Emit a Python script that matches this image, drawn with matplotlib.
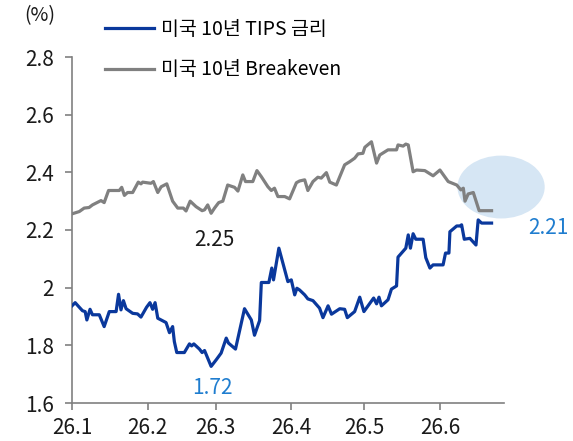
import numpy as np
import matplotlib
matplotlib.use('Agg')
import matplotlib.pyplot as plt
import matplotlib.dates as mdates
from matplotlib.patches import Ellipse

plt.rcParams['font.family'] = ['Noto Sans CJK KR', 'DejaVu Sans']

start = np.datetime64('2026-01-01T00:00')

# 미국 10년 TIPS 금리 (days since 2026-01-01, %)
tips_days = [0, 1.3, 3, 4.3, 5.4, 6.1, 7.4, 8.4, 11.2, 13.2,
             15.3, 18.1, 19.1, 20.1, 21.1, 22.2, 24.9, 26.9, 28.3, 30.6,
             32, 33.1, 34.1, 35.2, 38.6, 40, 41.3, 42, 43, 46.1,
             48.2, 49.1, 50, 52.3, 53.4, 54.4, 57.1, 59.2, 61.2, 63.3,
             64.2, 67.1, 70.8, 73.6, 74.9, 77, 77.7, 80.8, 82, 82.7,
             84.9, 88.6, 90, 91.4, 92.3, 93.4, 95.5, 96.8, 98.9, 101.6,
             103, 105.1, 106.5, 109.9, 111.9, 113, 116, 118.1, 119.8, 121.5,
             123.8, 125, 126, 127, 129.7, 131.1, 133.2, 133.8, 137, 138,
             138.9, 140, 141.1, 144.1, 145.2, 146.9, 148.2, 152.3, 153.3, 154.7,
             155.1, 157.9, 159.2, 159.9, 161, 163.3, 165.8, 166.7, 168.1, 172.2]
tips_vals = [1.937, 1.948, 1.932, 1.92, 1.917, 1.888, 1.925, 1.906, 1.906, 1.865,
             1.917, 1.917, 1.977, 1.923, 1.955, 1.927, 1.911, 1.909, 1.898, 1.932,
             1.948, 1.925, 1.948, 1.894, 1.879, 1.844, 1.865, 1.813, 1.775, 1.775,
             1.805, 1.798, 1.805, 1.787, 1.775, 1.782, 1.727, 1.75, 1.773, 1.825,
             1.808, 1.787, 1.927, 1.888, 1.835, 1.886, 2.018, 2.018, 2.068, 2.027,
             2.137, 2.021, 2.027, 1.975, 1.998, 1.992, 1.975, 1.961, 1.955, 1.929,
             1.896, 1.937, 1.908, 1.927, 1.925, 1.896, 1.917, 1.967, 1.917, 1.937,
             1.964, 1.944, 1.967, 1.937, 1.958, 1.995, 2.006, 2.106, 2.137, 2.183,
             2.137, 2.187, 2.168, 2.168, 2.104, 2.068, 2.079, 2.079, 2.12, 2.12,
             2.194, 2.214, 2.214, 2.218, 2.168, 2.171, 2.148, 2.235, 2.224, 2.224]

# 미국 10년 Breakeven
be_days = [0, 3, 5, 7, 8.4, 11.9, 13.2, 15, 19.4, 20.4,
           21.5, 22.8, 24.9, 27.2, 28.3, 29, 32.4, 33.4, 35.2, 36.6,
           38.9, 41.3, 43.4, 45.7, 46.8, 48.5, 50.9, 53.4, 54.4, 55.7,
           57.1, 58.5, 60.2, 61.9, 63.9, 66.7, 68.1, 70.1, 71.2, 74.2,
           75.9, 77.7, 80.4, 81.8, 83.1, 84.5, 87.3, 89.3, 92.1, 93.4,
           95.5, 96.8, 98.9, 100.9, 102.3, 104.4, 105.8, 108.5, 109.9, 111.9,
           114, 116, 117.4, 119.4, 120.2, 122.9, 125, 126.3, 129.7, 133.2,
           133.8, 135.9, 137, 138, 140, 141.4, 144.8, 148.2, 151, 154.4,
           157.9, 159.6, 160.6, 161.3, 162.6, 164.7, 167.1, 172.2]
be_vals = [2.256, 2.264, 2.276, 2.278, 2.287, 2.302, 2.295, 2.337, 2.337, 2.348,
           2.32, 2.33, 2.33, 2.366, 2.36, 2.366, 2.362, 2.368, 2.33, 2.35,
           2.36, 2.30, 2.276, 2.276, 2.266, 2.30, 2.281, 2.267, 2.27, 2.287,
           2.258, 2.276, 2.295, 2.30, 2.356, 2.348, 2.335, 2.391, 2.368, 2.368,
           2.406, 2.385, 2.35, 2.337, 2.345, 2.316, 2.316, 2.308, 2.364, 2.37,
           2.374, 2.337, 2.368, 2.383, 2.38, 2.399, 2.366, 2.356, 2.385, 2.426,
           2.437, 2.449, 2.464, 2.466, 2.487, 2.506, 2.432, 2.46, 2.478, 2.478,
           2.495, 2.491, 2.498, 2.495, 2.402, 2.408, 2.406, 2.388, 2.408, 2.368,
           2.356, 2.339, 2.345, 2.30, 2.325, 2.33, 2.267, 2.267]

month_ticks = ['2026-01-01', '2026-02-01', '2026-03-01', '2026-04-01', '2026-05-01', '2026-06-01']
month_labels = ['26.1', '26.2', '26.3', '26.4', '26.5', '26.6']
y_ticks = [1.6, 1.8, 2.0, 2.2, 2.4, 2.6, 2.8]
y_labels = ['1.6', '1.8', '2', '2.2', '2.4', '2.6', '2.8']


def to_dates(days):
    return start + (np.asarray(days) * 1440).astype('timedelta64[m]')


fig = plt.figure(figsize=(5.73, 4.41), dpi=100)
ax = fig.add_axes([72 / 573, 1 - 403 / 441, (504 - 72) / 573, (403 - 57) / 441])

ax.plot(to_dates(tips_days), tips_vals, color='#0a389c', lw=2.3, label='미국 10년 TIPS 금리', zorder=3)
ax.plot(to_dates(be_days), be_vals, color='#808080', lw=2.3, label='미국 10년 Breakeven', zorder=3)

# highlight ellipse at the end
cx = mdates.date2num(to_dates([176.1])[0])
ax.add_patch(Ellipse((cx, 2.349), 35.8, 0.218, facecolor='#d6e6f4', edgecolor='none',
                     clip_on=False, zorder=1))

ax.text(to_dates([58.5])[0], 2.166, '2.25', ha='center', va='center', fontsize=15, color='#1a1a1a')
ax.text(to_dates([57.7])[0], 1.653, '1.72', ha='center', va='center', fontsize=15, color='#1f7dcf')
ax.text(to_dates([195.5])[0], 2.207, '2.21', ha='center', va='center', fontsize=15, color='#1f7dcf',
        clip_on=False)

ax.set_xlim(to_dates([0])[0], to_dates([177.3])[0])
ax.set_ylim(1.6, 2.8)
ax.set_xticks(np.array(month_ticks, dtype='datetime64[m]'))
ax.set_xticklabels(month_labels)
ax.set_yticks(y_ticks)
ax.set_yticklabels(y_labels)

for s in ['top', 'right']:
    ax.spines[s].set_visible(False)
for s in ['left', 'bottom']:
    ax.spines[s].set_color('#808080')
    ax.spines[s].set_linewidth(1.2)
ax.tick_params(axis='both', colors='#808080', labelcolor='#1a1a1a', labelsize=15,
               length=5, width=1.2)
ax.tick_params(axis='x', pad=5)
ax.tick_params(axis='y', pad=8)

fig.text(40 / 573, 1 - 16 / 441, '(%)', ha='center', va='center', fontsize=14, color='#1a1a1a')

ax.legend(loc='upper left', bbox_to_anchor=(105 / 573, 1 - 19 / 441), bbox_transform=fig.transFigure,
          frameon=False, fontsize=14, handlelength=2.5, handletextpad=0.4, labelspacing=1.0,
          borderpad=0, borderaxespad=0)

fig.savefig('out.png', dpi=100)
